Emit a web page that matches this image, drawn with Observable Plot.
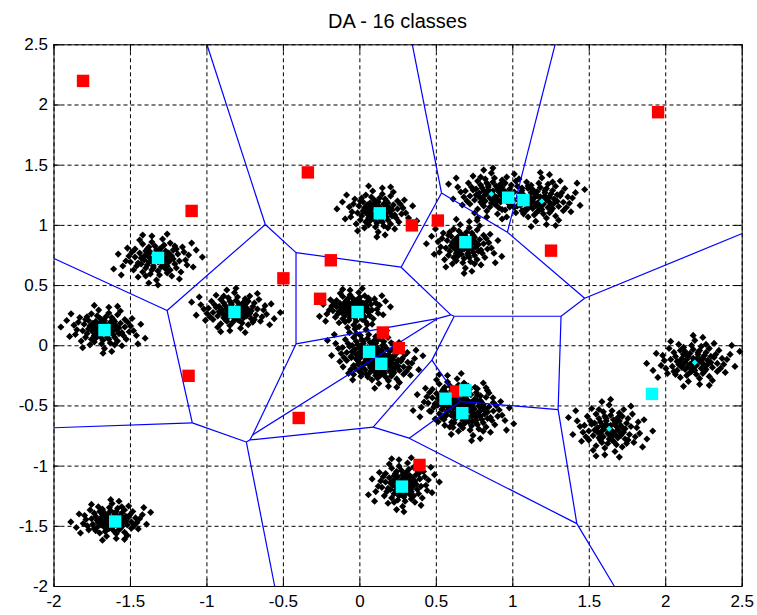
<!DOCTYPE html>
<html><head><meta charset="utf-8">
<script src="https://cdn.jsdelivr.net/npm/d3@7"></script>
<script src="https://cdn.jsdelivr.net/npm/@observablehq/plot@0.6"></script>
<style>
body{margin:0;background:#fff;}
#title{box-sizing:border-box;margin-left:53.5px;width:688px;height:31px;padding-top:11px;line-height:20px;text-align:center;font-family:"Liberation Sans",Arial,sans-serif;font-size:20px;color:#000;}
svg{display:block;}
</style></head><body>
<div id="title">DA - 16 classes</div>
<div id="chart"></div>
<script>
// Tick values
const xTicks = [-2, -1.5, -1, -0.5, 0, 0.5, 1, 1.5, 2, 2.5];
const yTicks = [-2, -1.5, -1, -0.5, 0, 0.5, 1, 1.5, 2, 2.5];

// Cyan squares (prototypes) – also the Voronoi generators
const protoX = [-1.32, -1.67, -0.82, -1.60, -0.015, 0.13, 0.06, 0.14, 0.275, 0.69, 0.97, 1.07, 0.56, 0.69, 0.67, 1.91];
const protoY = [0.73, 0.13, 0.28, -1.46, 0.28, 1.10, -0.05, -0.15, -1.17, 0.86, 1.23, 1.21, -0.44, -0.37, -0.56, -0.40];

// Red squares
const redX = [-1.81, -1.10, -0.34, -0.19, -0.50, -0.26, 1.95, 0.34, 0.51, 1.25, -1.12, -0.40, 0.15, 0.255, 0.63, 0.39];
const redY = [2.20, 1.12, 1.44, 0.71, 0.56, 0.39, 1.94, 1.00, 1.04, 0.79, -0.25, -0.60, 0.11, -0.02, -0.38, -0.99];

// Small cyan diamonds (class centres without a square nearby)
const smallX = [1.63, 2.19, 0.86, 1.19];
const smallY = [-0.69, -0.14, 1.26, 1.20];

// Black point clusters: centres and spreads (estimated)
const clusterX  = [-1.33, -1.67, -0.82, -1.62, -0.04, 0.12, 0.04, 0.16, 0.28, 0.69, 0.86, 1.19, 0.60, 0.74, 1.63, 2.19];
const clusterY  = [0.72, 0.14, 0.29, -1.45, 0.31, 1.12, -0.04, -0.16, -1.15, 0.83, 1.26, 1.21, -0.45, -0.56, -0.69, -0.13];
const clusterSX = [0.10, 0.095, 0.10, 0.09, 0.08, 0.09, 0.09, 0.09, 0.08, 0.085, 0.10, 0.10, 0.09, 0.095, 0.095, 0.105];
const clusterSY = [0.083, 0.078, 0.072, 0.066, 0.066, 0.083, 0.083, 0.077, 0.088, 0.088, 0.083, 0.088, 0.088, 0.088, 0.094, 0.083];

// Hand-estimated scatter pattern within one cluster (in units of spread)
const spread = [
[0.1,-0.3],[-0.5,0.2],[0.8,0.6],[-1.2,-0.4],[0.3,1.1],[-0.2,-0.9],[1.5,-0.2],[-0.7,0.8],[0.4,-0.5],[-1.8,0.3],
[0.9,-1.1],[-0.1,0.4],[0.6,0.1],[-0.4,-0.2],[1.1,0.9],[-0.9,-1.3],[0.2,-1.6],[-1.4,1.0],[2.1,0.4],[-0.3,1.7],
[0.7,-0.7],[-0.6,-0.6],[0.0,0.9],[1.3,-0.9],[-1.0,0.1],[0.5,1.4],[-2.2,-0.7],[0.2,0.2],[-0.8,-0.1],[1.7,1.2],
[-0.2,-0.4],[0.4,0.5],[-1.5,-1.1],[1.0,0.3],[-0.5,1.2],[0.1,-1.2],[2.4,-0.8],[-1.1,0.6],[0.8,-0.3],[-0.3,0.0],
[0.6,0.8],[-0.7,-0.9],[1.2,-0.5],[-1.6,0.7],[0.3,-0.8],[-0.1,1.3],[0.9,1.6],[-0.4,-1.5],[1.9,-0.1],[-2.0,-0.2],
[0.0,-0.1],[0.5,-0.2],[-0.6,0.4],[1.4,0.5],[-0.9,1.5],[0.7,-1.4],[-1.3,-0.7],[0.2,0.7],[-0.2,-0.7],[1.0,-1.7],
[-0.8,0.3],[1.6,-1.3],[-1.9,1.1],[0.4,2.0],[-0.5,-0.3],[0.1,0.6],[1.1,0.0],[-1.2,-1.8],[2.6,0.9],[-0.3,2.3],
[0.6,-1.0],[-1.0,-0.5],[0.3,0.3],[-0.6,1.0],[1.3,1.0],[-1.7,-0.3],[0.8,0.4],[-0.4,0.7],[0.0,-2.1],[2.0,-0.6],
[-2.5,0.5],[0.5,-0.6],[-0.1,-0.2],[0.9,-0.1],[-1.4,0.2],[1.8,0.7],[-0.7,-1.7],[0.2,1.0],[-0.3,-1.1],[1.2,1.3],
[-2.8,-1.0],[3.0,0.2],[0.1,-2.6],[-0.9,2.4],[1.5,-2.0],[-1.1,1.9],[2.3,1.6],[-2.3,-1.6],[0.7,2.5],[-0.5,-2.4]
];

// Build tables
const protos = protoX.map((x, i) => ({x, y: protoY[i]}));
const reds = redX.map((x, i) => ({x, y: redY[i]}));
const smalls = smallX.map((x, i) => ({x, y: smallY[i]}));
const points = [];
clusterX.forEach((cx, k) => {
  const fx = (k & 1) ? -1 : 1, fy = (k & 2) ? -1 : 1;
  for (const [dx, dy] of spread) {
    points.push({x: cx + fx * dx * clusterSX[k], y: clusterY[k] + fy * dy * clusterSY[k]});
  }
});

// Voronoi diagram of the prototypes, computed in data space (as MATLAB does)
const X0 = -2, X1 = 2.5, Y0 = -2, Y1 = 2.5;
const vor = d3.Delaunay.from(protos, d => d.x, d => d.y).voronoi([X0, Y0, X1, Y1]);
const eps = 1e-9;
const onSameBound = (a, b) =>
  (Math.abs(a[0] - X0) < eps && Math.abs(b[0] - X0) < eps) ||
  (Math.abs(a[0] - X1) < eps && Math.abs(b[0] - X1) < eps) ||
  (Math.abs(a[1] - Y0) < eps && Math.abs(b[1] - Y0) < eps) ||
  (Math.abs(a[1] - Y1) < eps && Math.abs(b[1] - Y1) < eps);
const edges = [];
const seen = new Set();
protos.forEach((_, i) => {
  const poly = vor.cellPolygon(i);
  if (!poly) return;
  for (let j = 0; j < poly.length - 1; j++) {
    const a = poly[j], b = poly[j + 1];
    if (onSameBound(a, b)) continue;
    const key = [a, b].map(p => p.map(v => v.toFixed(6)).join(",")).sort().join("|");
    if (seen.has(key)) continue;
    seen.add(key);
    edges.push({x1: a[0], y1: a[1], x2: b[0], y2: b[1]});
  }
});

const tickLenX = 0.045, tickLenY = 0.057;
const font = {fontFamily: '"Liberation Sans", Arial, sans-serif', fontSize: 17};
const fmt = d => String(d);

const chart = Plot.plot({
  width: 757,
  height: 584,
  marginLeft: 53.5,
  marginRight: 15.3,
  marginTop: 13.3,
  marginBottom: 29,
  style: {background: "#fff", color: "#000", ...font},
  x: {domain: [X0, X1], axis: null},
  y: {domain: [Y0, Y1], axis: null},
  marks: [
    Plot.ruleX(xTicks, {stroke: "#000", strokeWidth: 1, strokeDasharray: "4,3"}),
    Plot.ruleY(yTicks, {stroke: "#000", strokeWidth: 1, strokeDasharray: "4,3"}),
    Plot.ruleX(xTicks, {x: d => d, y1: Y0, y2: Y0 + tickLenY, stroke: "#000"}),
    Plot.ruleX(xTicks, {x: d => d, y1: Y1 - tickLenY, y2: Y1, stroke: "#000"}),
    Plot.ruleY(yTicks, {y: d => d, x1: X0, x2: X0 + tickLenX, stroke: "#000"}),
    Plot.ruleY(yTicks, {y: d => d, x1: X1 - tickLenX, x2: X1, stroke: "#000"}),
    Plot.dot(points, {x: "x", y: "y", symbol: "diamond2", r: 3.2, fill: "#000", stroke: null}),
    Plot.link(edges, {x1: "x1", y1: "y1", x2: "x2", y2: "y2", stroke: "#0000ff", strokeWidth: 1.2}),
    Plot.dot(reds, {x: "x", y: "y", symbol: "square", r: 7, fill: "#ff0000", stroke: null}),
    Plot.dot(protos, {x: "x", y: "y", symbol: "square", r: 7, fill: "#00ffff", stroke: null}),
    Plot.dot(smalls, {x: "x", y: "y", symbol: "diamond2", r: 2.7, fill: "#00ffff", stroke: null}),
    Plot.frame({stroke: "#000", strokeWidth: 1}),
    Plot.axisX(xTicks, {anchor: "bottom", label: null, tickSize: 0, tickPadding: 8, tickFormat: fmt, ...font, fill: "#000"}),
    Plot.axisY(yTicks, {anchor: "left", label: null, tickSize: 0, tickPadding: 6, tickFormat: fmt, ...font, fill: "#000"})
  ]
});
document.getElementById("chart").appendChild(chart);
</script>
</body></html>
